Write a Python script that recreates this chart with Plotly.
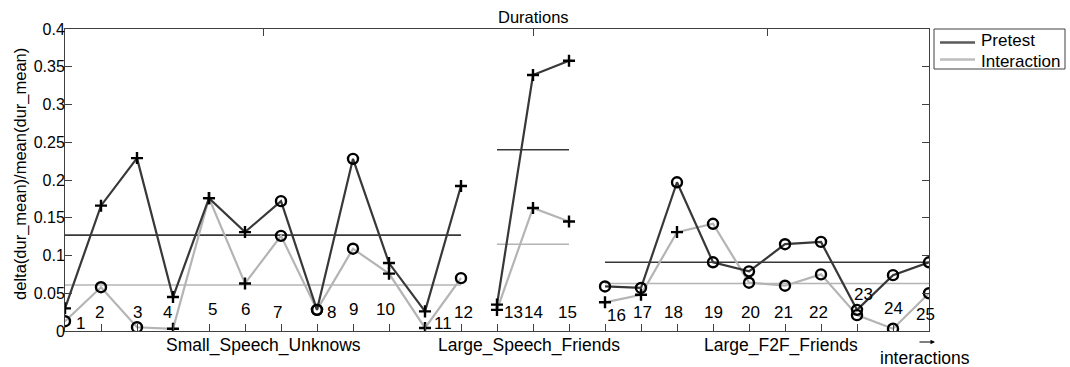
import plotly.graph_objects as go

# ---------------- data ----------------
interactions = list(range(1, 26))
pretest = [0.030, 0.166, 0.229, 0.045, 0.176, 0.131, 0.172, 0.028, 0.228, 0.090, 0.026, 0.192,
           0.035, 0.339, 0.358,
           0.059, 0.057, 0.197, 0.091, 0.079, 0.115, 0.118, 0.028, 0.074, 0.091]
interaction = [0.013, 0.058, 0.005, 0.003, 0.176, 0.063, 0.126, 0.028, 0.109, 0.076, 0.004, 0.070,
               0.028, 0.163, 0.145,
               0.038, 0.048, 0.131, 0.142, 0.064, 0.060, 0.075, 0.021, 0.003, 0.050]
pretest_marks = ['+', '+', '+', '+', '+', '+', 'o', 'o', 'o', '+', '+', '+',
                 '+', '+', '+',
                 'o', 'o', 'o', 'o', 'o', 'o', 'o', 'o', 'o', 'o']
interaction_marks = ['o', 'o', 'o', '+', '+', '+', 'o', 'o', 'o', '+', '+', 'o',
                     '+', '+', '+',
                     '+', '+', '+', 'o', 'o', 'o', 'o', 'o', 'o', 'o']
series_names = ['Pretest', 'Interaction']
group_names = ['Small_Speech_Unknows', 'Large_Speech_Friends', 'Large_F2F_Friends']
group_first = [1, 13, 16]
group_last = [12, 15, 25]
group_centers = [6.5, 14, 20.5]
group_label_x = [6.5, 13.9, 20.9]
pretest_means = [0.127, 0.240, 0.091]
interaction_means = [0.061, 0.115, 0.063]
point_labels = [str(i) for i in interactions]
label_x = [1.42, 1.97, 3.0, 3.86, 5.11, 6.0, 6.89, 8.39, 9.0, 9.89, 11.5, 12.06,
           13.47, 14.0, 14.97,
           16.33, 17.03, 17.89, 19.0, 20.03, 20.97, 21.94, 23.17, 24.0, 24.89]
label_y = [0.0106, 0.025, 0.024, 0.024, 0.028, 0.028, 0.025, 0.024, 0.028, 0.028, 0.0106, 0.025,
           0.024, 0.024, 0.024,
           0.021, 0.025, 0.025, 0.024, 0.024, 0.024, 0.024, 0.048, 0.030, 0.0225]
y_ticks = [0, 0.05, 0.1, 0.15, 0.2, 0.25, 0.3, 0.35, 0.4]

# ---------------- style ----------------
DARK = '#383838'
LIGHT = '#b4b4b4'
LEG_COLORS = ['#5a5a5a', '#bdbdbd']
FONT = 'Liberation Sans, Arial, sans-serif'
SYM = {'+': 'cross-thin-open', 'o': 'circle-open'}
SIZE = {'+': 8.6, 'o': 10}
W, H = 1070, 367
ML, MR, MT, MB = 65, 141, 29, 36
PW, PH = W - ML - MR, H - MT - MB


def px(xp):
    return (xp - ML) / PW


def py(yp):
    return (H - MB - yp) / PH


fig = go.Figure()

# group mean lines
for means, color in [(pretest_means, DARK), (interaction_means, LIGHT)]:
    for g in range(len(group_names)):
        fig.add_trace(go.Scatter(
            x=[group_first[g], group_last[g]], y=[means[g], means[g]],
            mode='lines', line=dict(color=color, width=1.6),
            showlegend=False, hoverinfo='skip'))

# series lines (interaction first, pretest on top)
for vals, color in [(interaction, LIGHT), (pretest, DARK)]:
    for g in range(len(group_names)):
        a, b = group_first[g] - 1, group_last[g]
        fig.add_trace(go.Scatter(
            x=interactions[a:b], y=vals[a:b], mode='lines',
            line=dict(color=color, width=2.2), showlegend=False, hoverinfo='skip'))

# markers
for vals, marks in [(interaction, interaction_marks), (pretest, pretest_marks)]:
    fig.add_trace(go.Scatter(
        x=interactions, y=vals, mode='markers', showlegend=False,
        marker=dict(symbol=[SYM[m] for m in marks], size=[SIZE[m] for m in marks],
                    color='black', opacity=1, line=dict(color='black', width=2.4))))

# point number labels
for t, lx, ly in zip(point_labels, label_x, label_y):
    fig.add_annotation(x=lx, y=ly, text=t, showarrow=False,
                       font=dict(size=17, color='black', family=FONT),
                       xanchor='center', yanchor='middle')

# group labels below the axis
for name, gx in zip(group_names, group_label_x):
    fig.add_annotation(x=gx, y=0, xref='x', yref='paper', text=name, showarrow=False,
                       font=dict(size=17.5, color='black', family=FONT),
                       xanchor='center', yanchor='middle', yshift=-14)
# arrow + "interactions"
fig.add_annotation(x=px(935), y=py(342), xref='paper', yref='paper', text='',
                   showarrow=True, ax=-17, ay=0, axref='pixel', ayref='pixel',
                   arrowhead=2, arrowsize=0.9, arrowwidth=1, arrowcolor='black')
fig.add_annotation(x=24.9, y=0, xref='x', yref='paper', text='interactions', showarrow=False,
                   font=dict(size=17.5, color='black', family=FONT),
                   xanchor='center', yanchor='middle', yshift=-27)
# title
fig.add_annotation(x=14, y=1, xref='x', yref='paper', text='Durations', showarrow=False,
                   font=dict(size=16.5, color='black', family=FONT),
                   xanchor='center', yanchor='middle', yshift=12)
# y-axis title
fig.add_annotation(x=0, y=0.52, xref='paper', yref='paper', text='delta(dur_mean)/mean(dur_mean)',
                   showarrow=False, textangle=-90,
                   font=dict(size=16.5, color='black', family=FONT),
                   xanchor='center', yanchor='middle', xshift=-44)

# manual legend (box, lines, labels)
fig.add_shape(type='rect', xref='paper', yref='paper',
              x0=px(934), x1=px(1065), y0=py(69), y1=py(29),
              line=dict(color='#404040', width=1), fillcolor='white', layer='above')
for i, (name, color) in enumerate(zip(series_names, LEG_COLORS)):
    ly = [42.5, 59.5][i]
    ty = [41, 61][i]
    fig.add_shape(type='line', xref='paper', yref='paper',
                  x0=px(940), x1=px(975), y0=py(ly), y1=py(ly),
                  line=dict(color=color, width=2.5), layer='above')
    fig.add_annotation(x=px(979), y=py(ty), xref='paper', yref='paper', text=name,
                       showarrow=False, xanchor='left', yanchor='middle',
                       font=dict(size=17, color='black', family=FONT))

# dummy trace for top axis ticks
fig.add_trace(go.Scatter(x=group_centers, y=[None] * 3, xaxis='x2', showlegend=False,
                         hoverinfo='skip', mode='markers'))

fig.update_layout(
    width=W, height=H,
    margin=dict(l=ML, r=MR, t=MT, b=MB),
    paper_bgcolor='white', plot_bgcolor='white',
    font=dict(family=FONT, size=16, color='black'),
    showlegend=False,
    xaxis=dict(range=[1, 25], tickvals=interactions, showticklabels=False,
               ticks='inside', ticklen=7, tickcolor='#404040', tickwidth=1,
               showline=True, linecolor='#404040', linewidth=1, mirror=True,
               showgrid=False, zeroline=False),
    xaxis2=dict(range=[1, 25], overlaying='x', side='top', tickvals=group_centers,
                showticklabels=False, ticks='inside', ticklen=7, tickcolor='#404040',
                showline=False, showgrid=False, zeroline=False),
    yaxis=dict(range=[0, 0.4], tickvals=y_ticks, ticktext=[f'{v:g}' for v in y_ticks],
               ticks='inside', ticklen=7, tickcolor='#404040', tickwidth=1,
               showline=True, linecolor='#404040', linewidth=1, mirror='ticks',
               showgrid=False, zeroline=False, ticklabelstandoff=-4,
               tickfont=dict(size=16, family=FONT)),
)

fig.write_html('out.html')
